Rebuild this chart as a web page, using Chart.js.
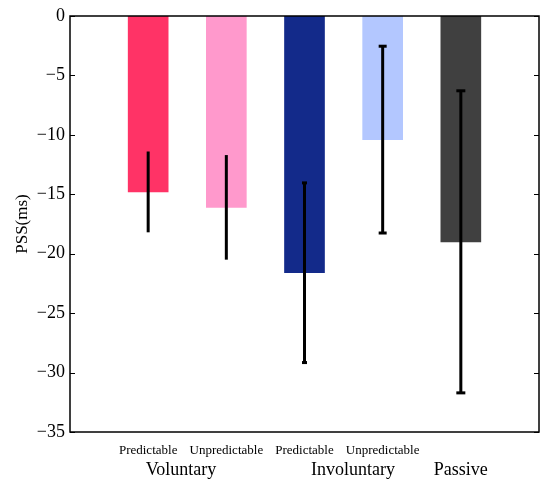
<!DOCTYPE html>
<html>
<head>
<meta charset="utf-8">
<script src="https://cdn.jsdelivr.net/npm/chart.js@4.4.0/dist/chart.umd.min.js"></script>
<style>
  html, body { margin: 0; padding: 0; background: #fff; overflow: hidden; }
  #wrap { width: 540px; height: 479px; }
  canvas { display: block; }
</style>
</head>
<body>
<div id="wrap"><canvas id="myChart"></canvas></div>
<script>
// data
const conditions = ['', 'Predictable', 'Unpredictable', 'Predictable', 'Unpredictable', '', ''];
const groups = ['Voluntary', 'Involuntary', 'Passive'];
const groupPos = [1.42, 3.62, 5];
const pss = [null, -14.8, -16.1, -21.6, -10.4, -19.0, null];
const pssErr = [null, 3.4, 4.4, 7.6, 7.9, 12.75, null];
const yTicks = [0, -5, -10, -15, -20, -25, -30, -35];

const barColors = ['#fff', '#ff3366', '#ff99cc', '#132a8a', '#b3c7ff', '#404040', '#fff'];
const capWidths = [0, 0, 0, 5, 8, 9, 0];
const serif = '"Liberation Serif", "DejaVu Serif", serif';

// error bars, group labels, frame and inward ticks
const extras = {
  id: 'extras',
  afterDatasetsDraw(chart) {
    const { ctx, chartArea: a, scales: { x, y } } = chart;
    ctx.save();
    ctx.strokeStyle = '#000';
    ctx.fillStyle = '#000';
    pss.forEach((v, i) => {
      if (v === null) return;
      const px = x.getPixelForValue(i);
      const top = y.getPixelForValue(v + pssErr[i]);
      const bot = y.getPixelForValue(v - pssErr[i]);
      ctx.lineWidth = 3;
      ctx.beginPath();
      ctx.moveTo(px, top);
      ctx.lineTo(px, bot);
      ctx.stroke();
      if (capWidths[i]) {
        ctx.fillRect(px - capWidths[i] / 2, top - 1, capWidths[i], 3);
        ctx.fillRect(px - capWidths[i] / 2, bot - 2, capWidths[i], 3);
      }
    });
    // frame
    ctx.lineWidth = 1.5;
    ctx.strokeRect(a.left, a.top, a.right - a.left, a.bottom - a.top);
    // inward ticks
    ctx.lineWidth = 1;
    yTicks.forEach(t => {
      const py = Math.round(y.getPixelForValue(t)) + 0.5;
      ctx.beginPath();
      ctx.moveTo(a.left, py); ctx.lineTo(a.left + 5, py);
      ctx.moveTo(a.right, py); ctx.lineTo(a.right - 5, py);
      ctx.stroke();
    });
    // group labels
    ctx.font = '18px ' + serif;
    ctx.textAlign = 'center';
    ctx.textBaseline = 'middle';
    groups.forEach((g, i) => {
      ctx.fillText(g, x.getPixelForValue(groupPos[i]), 470);
    });
    ctx.restore();
  }
};

new Chart(document.getElementById('myChart'), {
  type: 'bar',
  data: {
    labels: conditions,
    datasets: [{
      data: pss,
      backgroundColor: barColors,
      barThickness: 40,
      borderWidth: 0
    }]
  },
  options: {
    responsive: true,
    maintainAspectRatio: false,
    animation: false,
    layout: { padding: { top: 16, right: 1, left: 0, bottom: 0 } },
    plugins: {
      legend: { display: false },
      tooltip: { enabled: false }
    },
    scales: {
      x: {
        offset: false,
        grid: { display: false, drawTicks: false },
        border: { display: false },
        ticks: {
          autoSkip: false,
          maxRotation: 0,
          padding: 11,
          color: '#000',
          font: { family: serif, size: 13 }
        },
        afterFit: s => {
          s.height = 47;
          s.paddingLeft = 0;
          s.paddingRight = 0;
        }
      },
      y: {
        min: -35,
        max: 0,
        grid: { display: false, drawTicks: false },
        border: { display: false },
        afterBuildTicks: s => { s.ticks = yTicks.map(v => ({ value: v })); },
        ticks: {
          padding: 5,
          color: '#000',
          font: { family: serif, size: 18 },
          callback: v => String(v).replace('-', '\u2212')
        },
        title: {
          display: true,
          text: 'PSS(ms)',
          color: '#000',
          font: { family: serif, size: 17 },
          padding: { top: 12, bottom: 0 }
        },
        afterFit: s => { s.width = 70; }
      }
    }
  },
  plugins: [extras]
});
</script>
</body>
</html>
